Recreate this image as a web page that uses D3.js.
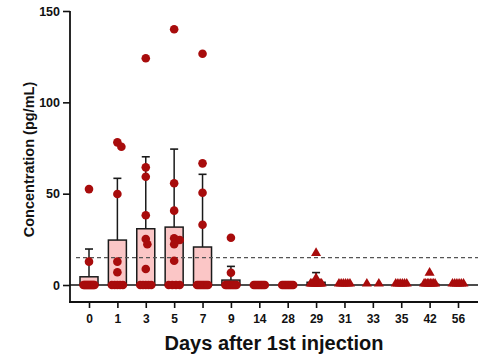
<!DOCTYPE html>
<html><head><meta charset="utf-8">
<script src="https://cdn.jsdelivr.net/npm/d3@7"></script>
<style>
html,body{margin:0;padding:0;background:#fff;}
svg{display:block;font-family:"Liberation Sans",Arial,sans-serif;}
</style></head>
<body><svg id="c" width="492" height="356"></svg>
<script>
// ---- data ----
const days = ["0","1","3","5","7","9","14","28","29","31","33","35","42","56"];
const means = [4.5, 24.6, 30.8, 31.7, 20.8, 2.7, 0, 0, 1.5, 0, 0, 0, 0.4, 0];
const sds   = [15.2, 33.8, 39.4, 42.7, 39.8, 7.5, 0, 0, 5.3, 0, 0, 0, 1.6, 0];
// non-zero individual values per day
const nonZero = [
  [52.5, 12.8],
  [78.1, 75.7, 49.8, 12.8, 7.0],
  [124.1, 64.4, 59.3, 38.2, 25.2, 22.3, 8.8],
  [140.0, 55.7, 40.7, 25.6, 24.6, 22.3, 13.3],
  [126.6, 66.6, 50.5, 33.0],
  [25.9, 6.7],
  [],
  [],
  [16.8, 3.0],
  [],
  [],
  [],
  [5.9],
  []
];
// number of zero values per day
const zeroCounts = [12, 5, 5, 4, 8, 9, 8, 8, 9, 6, 2, 6, 8, 6];
// marker shape per day
const shapes = ["circle","circle","circle","circle","circle","circle","circle","circle",
                "triangle","triangle","triangle","triangle","triangle","triangle"];
const yTicks = [0, 50, 100, 150];
const threshold = 15;

// ---- layout ----
const svg = d3.select("#c");
const pLeft = 70, pRight = 478, pTop = 11, pBottom = 302;
const x = d3.scalePoint().domain(days).range([89, 458]);
const y = d3.scaleLinear().domain([-9.3, 150]).range([pBottom, pTop]);
const barW = 18;
const ptColor = "#a80c0c";

// bars
days.forEach((d, i) => {
  if (means[i] <= 0) return;
  svg.append("rect")
    .attr("x", x(d) - barW/2).attr("y", y(means[i]))
    .attr("width", barW).attr("height", y(0) - y(means[i]))
    .attr("fill", "#fbc6c6").attr("stroke", "#1a1a1a").attr("stroke-width", 1.5);
});

// error bars
days.forEach((d, i) => {
  if (sds[i] <= 0) return;
  const yt = y(means[i] + sds[i]);
  svg.append("line").attr("x1", x(d)).attr("x2", x(d))
    .attr("y1", y(means[i])).attr("y2", yt)
    .attr("stroke", "#1a1a1a").attr("stroke-width", 1.5);
  svg.append("line").attr("x1", x(d) - 4).attr("x2", x(d) + 4)
    .attr("y1", yt).attr("y2", yt)
    .attr("stroke", "#1a1a1a").attr("stroke-width", 1.6);
});

// zero line
svg.append("line").attr("x1", pLeft).attr("x2", pRight)
  .attr("y1", y(0)).attr("y2", y(0))
  .attr("stroke", "#111").attr("stroke-width", 1.6);

// threshold dashed line
svg.append("line").attr("x1", 76).attr("x2", pRight)
  .attr("y1", y(threshold)).attr("y2", y(threshold))
  .attr("stroke", "#555").attr("stroke-width", 1.2)
  .attr("stroke-dasharray", "4,3");

// points
const sym = {
  circle: d3.symbol().type(d3.symbolCircle).size(Math.PI * 4.3 * 4.3),
  triangle: d3.symbol().type(d3.symbolTriangle).size(44)
};
days.forEach((d, i) => {
  const cx = x(d);
  const placed = [];
  nonZero[i].forEach(v => {
    const py = y(v);
    let best = 0;
    const cands = [0];
    for (let k = 1; k <= 12; k++) { cands.push(k * 0.8, -k * 0.8); }
    for (const c of cands) {
      if (placed.every(p => Math.hypot(p[0] - c, p[1] - py) >= 5.5)) { best = c; break; }
    }
    placed.push([best, py]);
  });
  const n = zeroCounts[i];
  const half = n <= 2 ? 6 : 5.5;
  for (let k = 0; k < n; k++) {
    const off = n === 1 ? 0 : -half + (2 * half) * k / (n - 1);
    placed.push([off, y(0)]);
  }
  placed.forEach(p => {
    const dy = shapes[i] === "triangle" ? -1.3 : 0;
    svg.append("path").attr("d", sym[shapes[i]]())
      .attr("transform", `translate(${cx + p[0]},${p[1] + dy})`)
      .attr("fill", ptColor);
  });
});

// axes
svg.append("line").attr("x1", pLeft - 0.9).attr("x2", pRight).attr("y1", pBottom).attr("y2", pBottom)
  .attr("stroke", "#111").attr("stroke-width", 1.8);
const xAx = d3.axisBottom(x).tickSize(6).tickSizeOuter(0).tickPadding(6);
const xg = svg.append("g").attr("transform", `translate(0,${pBottom})`).call(xAx);
xg.select(".domain").remove();
xg.selectAll(".tick line").attr("stroke", "#111").attr("stroke-width", 1.6);
xg.selectAll(".tick text").attr("fill", "#111").attr("font-size", 12)
  .attr("font-weight", "bold").attr("font-family", "Liberation Sans, Arial, sans-serif");

const yAx = d3.axisLeft(y).tickValues(yTicks).tickSize(7).tickSizeOuter(0).tickPadding(3);
const yg = svg.append("g").attr("transform", `translate(${pLeft},0)`).call(yAx);
yg.select(".domain").remove();
yg.append("line").attr("x1", 0).attr("x2", 0).attr("y1", pTop).attr("y2", pBottom + 0.9)
  .attr("stroke", "#111").attr("stroke-width", 1.8);
yg.selectAll(".tick line").attr("stroke", "#111").attr("stroke-width", 1.6);
yg.selectAll(".tick text").attr("fill", "#111").attr("font-size", 12.5)
  .attr("font-weight", "bold").attr("font-family", "Liberation Sans, Arial, sans-serif");

// titles
svg.append("text").attr("x", (pLeft + pRight) / 2).attr("y", 350)
  .attr("text-anchor", "middle").attr("font-size", 20).attr("font-weight", "bold")
  .attr("fill", "#111").text("Days after 1st injection");
svg.append("text").attr("transform", `translate(34,${(pTop + pBottom) / 2 + 3}) rotate(-90)`)
  .attr("text-anchor", "middle").attr("font-size", 14.5).attr("font-weight", "bold")
  .attr("fill", "#111").text("Concentration (pg/mL)");
</script></body></html>
